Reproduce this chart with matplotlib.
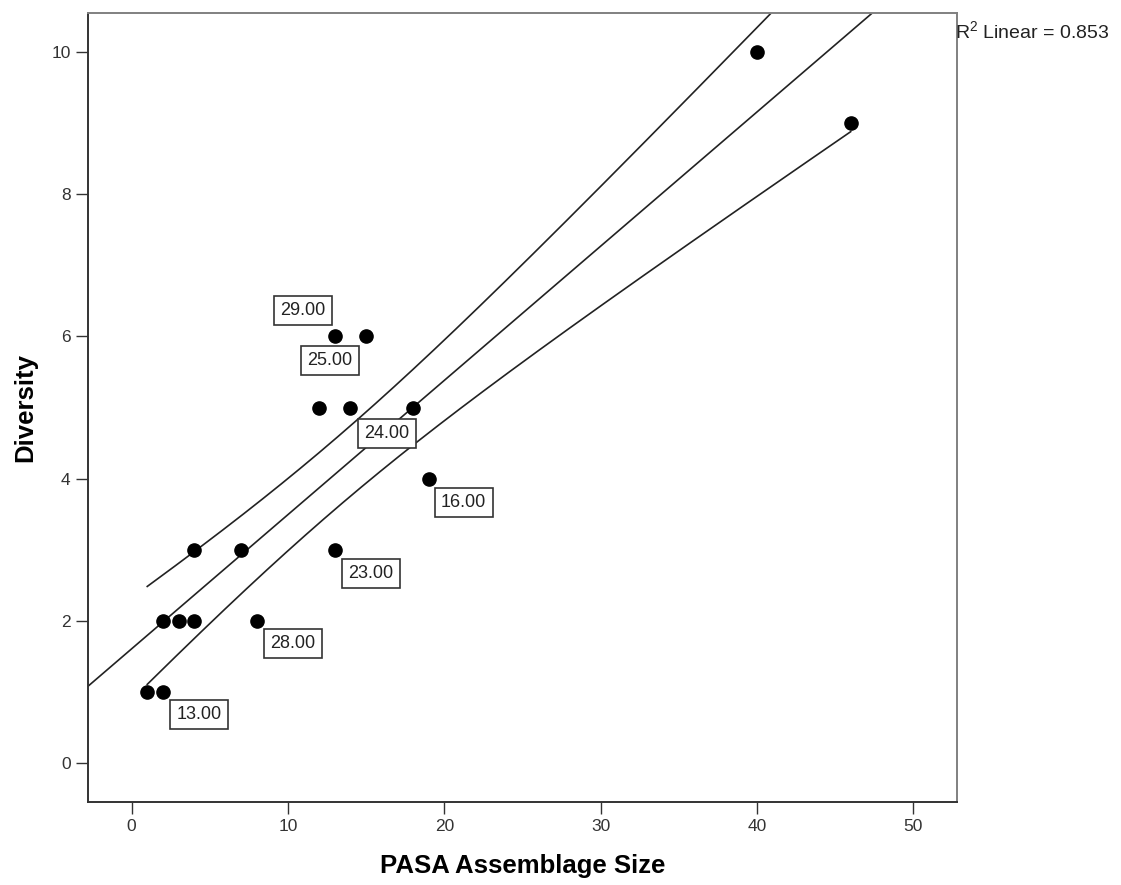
import numpy as np
import matplotlib
matplotlib.use("Agg")
import matplotlib.pyplot as plt

# ---- data ----
size = [1, 2, 2, 3, 4, 4, 7, 8, 12, 13, 13, 14, 15, 18, 19, 40, 46]
diversity = [1, 1, 2, 2, 2, 3, 3, 2, 5, 6, 3, 5, 6, 5, 4, 10, 9]

# case labels: (text, x, y, offset in pixels)
case_text = ["29.00", "25.00", "24.00", "16.00", "23.00", "28.00", "13.00"]
case_x = [13, 13, 18, 19, 13, 8, 2]
case_y = [6, 6, 5, 4, 3, 2, 1]
case_dx = [-32, -5, -26, 35, 36, 36, 36]
case_dy = [26, -24, -26, -24, -24, -23, -23]

r2_text = r"R$^2$ Linear = 0.853"

plt.rcParams.update({
    "font.family": ["Liberation Sans", "DejaVu Sans"],
    "mathtext.fontset": "custom",
    "mathtext.rm": "Liberation Sans",
    "mathtext.it": "Liberation Sans",
})

x = np.array(size, dtype=float)
y = np.array(diversity, dtype=float)
n = len(x)
b, a = np.polyfit(x, y, 1)
resid = y - (a + b * x)
s = np.sqrt(np.sum(resid ** 2) / (n - 2))
sxx = np.sum((x - x.mean()) ** 2)
t = 1.95  # band width seen in the picture

fig = plt.figure(figsize=(11.21, 8.85), dpi=100)
ax = fig.add_axes([88 / 1121, 1 - 802 / 885, 869 / 1121, 789 / 885])

xlim = (-2.79, 52.8)
ylim = (-0.553, 10.553)

xl = np.linspace(xlim[0], xlim[1], 200)
ax.plot(xl, a + b * xl, color="#222222", lw=1.2, zorder=2)

xb = np.linspace(x.min(), x.max(), 300)
half = t * s * np.sqrt(1 / n + (xb - x.mean()) ** 2 / sxx)
ax.plot(xb, a + b * xb + half, color="#222222", lw=1.2, zorder=2)
ax.plot(xb, a + b * xb - half, color="#222222", lw=1.2, zorder=2)

ax.plot(x, y, "o", color="black", ms=9.5, zorder=3)

for txt, px, py, dx, dy in zip(case_text, case_x, case_y, case_dx, case_dy):
    ax.annotate(txt, (px, py), xytext=(dx, dy), textcoords="offset pixels",
                ha="center", va="center", fontsize=13, color="#222222",
                bbox=dict(boxstyle="square,pad=0.35", fc="white", ec="#333333", lw=1.2),
                zorder=4)

ax.set_xlim(xlim)
ax.set_ylim(ylim)
ax.set_xticks([0, 10, 20, 30, 40, 50])
ax.set_yticks([0, 2, 4, 6, 8, 10])
ax.tick_params(direction="out", length=8.5, width=1.0, color="#333333",
               labelsize=12.5, labelcolor="#333333", pad=4)
for side in ["left", "bottom"]:
    ax.spines[side].set_color("#333333")
for side in ["top", "right"]:
    ax.spines[side].set_color("#808080")
for sp in ax.spines.values():
    sp.set_linewidth(1.4)

ax.set_xlabel("PASA Assemblage Size", fontsize=18.5, fontweight="bold", labelpad=14)
ax.set_ylabel("Diversity", fontsize=18.5, fontweight="bold", labelpad=10)

fig.text(955 / 1121, 1 - 31 / 885, r2_text, fontsize=14, color="#222222",
         ha="left", va="center")

fig.savefig("out.png", dpi=100)
